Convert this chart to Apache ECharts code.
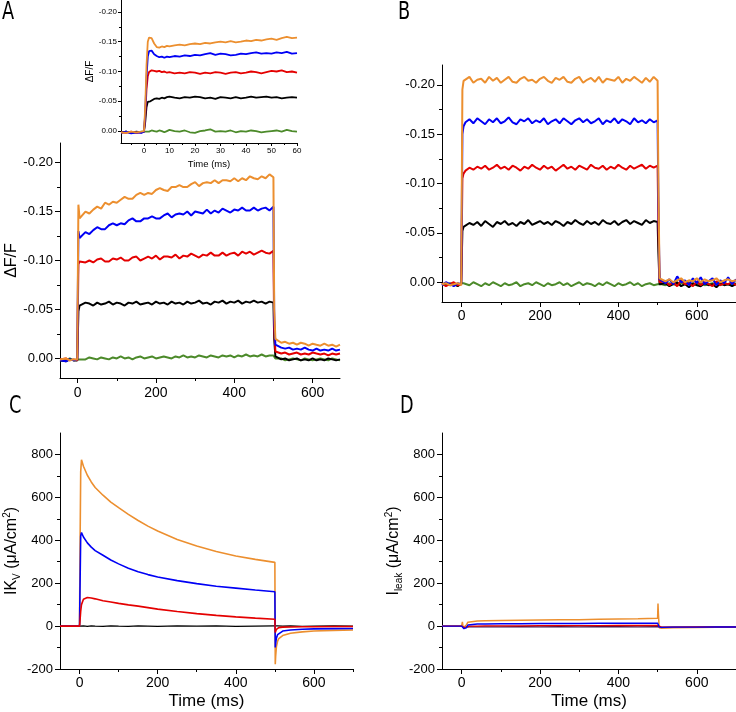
<!DOCTYPE html>
<html>
<head>
<meta charset="utf-8">
<script src="https://cdn.jsdelivr.net/npm/echarts@6/dist/echarts.min.js"></script>
<style>
html, body { margin: 0; padding: 0; background: #fff; }
#chart { width: 736px; height: 712px; }
</style>
</head>
<body>
<div id="chart"></div>
<script>
/* data */

// panel A, 0-670 ms
const tA = [-45,-40,-30,-20,-10,-1,0,2,5,
  10,20,30,40,50,60,70,80,90,100,110,120,130,140,150,160,170,180,190,200,
  210,220,230,240,250,260,270,280,290,300,310,320,330,340,350,360,370,380,390,400,
  410,420,430,440,450,460,470,480,490,500,502,505,
  510,520,530,540,550,560,570,580,590,600,610,620,630,640,650,660,670]
const aOrange = [0.001,0.002,0.000,0.002,0.001,0.001,0.001,-0.157,-0.143,
  -0.145,-0.150,-0.148,-0.152,-0.155,-0.153,-0.159,-0.157,-0.160,-0.159,
  -0.162,-0.165,-0.163,-0.163,-0.167,-0.169,-0.167,-0.169,-0.168,-0.172,
  -0.174,-0.172,-0.171,-0.175,-0.175,-0.177,-0.175,-0.175,-0.178,-0.180,
  -0.176,-0.179,-0.180,-0.179,-0.182,-0.179,-0.182,-0.182,-0.181,-0.184,
  -0.181,-0.184,-0.182,-0.186,-0.184,-0.183,-0.186,-0.184,-0.188,-0.185,
  -0.050,-0.020,
  -0.018,-0.016,-0.017,-0.015,-0.016,-0.014,-0.016,-0.015,-0.013,-0.015,-0.014,-0.013,-0.015,-0.013,-0.014,-0.012,-0.014]
const aBlue = [0.002,0.000,0.003,0.001,0.002,0.001,0.001,-0.130,-0.123,
  -0.125,-0.129,-0.127,-0.131,-0.134,-0.132,-0.132,-0.136,-0.138,-0.136,
  -0.138,-0.137,-0.141,-0.143,-0.140,-0.140,-0.143,-0.143,-0.145,-0.143,
  -0.143,-0.146,-0.148,-0.144,-0.147,-0.148,-0.147,-0.150,-0.146,-0.150,
  -0.149,-0.148,-0.152,-0.148,-0.151,-0.149,-0.153,-0.151,-0.149,-0.152,
  -0.151,-0.154,-0.151,-0.151,-0.154,-0.151,-0.153,-0.154,-0.151,-0.155,
  -0.040,-0.014,
  -0.012,-0.011,-0.010,-0.011,-0.009,-0.010,-0.009,-0.011,-0.009,-0.008,-0.010,-0.008,-0.009,-0.008,-0.010,-0.008,-0.009]
const aRed = [0.001,0.003,0.000,0.002,0.001,0.002,0.001,-0.096,-0.099,
  -0.101,-0.098,-0.100,-0.098,-0.101,-0.102,-0.099,-0.099,-0.102,-0.101,
  -0.103,-0.100,-0.100,-0.103,-0.104,-0.100,-0.102,-0.104,-0.102,-0.105,
  -0.101,-0.104,-0.104,-0.103,-0.106,-0.102,-0.105,-0.104,-0.107,-0.105,
  -0.103,-0.106,-0.105,-0.108,-0.105,-0.105,-0.108,-0.105,-0.107,-0.108,
  -0.105,-0.109,-0.107,-0.109,-0.106,-0.108,-0.110,-0.108,-0.107,-0.110,
  -0.030,-0.007,
  -0.006,-0.005,-0.006,-0.004,-0.005,-0.006,-0.004,-0.005,-0.004,-0.006,-0.005,-0.004,-0.005,-0.003,-0.005,-0.004,-0.005]
const aBlack = [0.002,0.001,0.003,0.001,0.002,0.002,0.001,-0.048,-0.054,
  -0.055,-0.057,-0.056,-0.054,-0.057,-0.055,-0.056,-0.058,-0.055,-0.057,
  -0.056,-0.054,-0.057,-0.056,-0.058,-0.055,-0.056,-0.057,-0.055,-0.058,
  -0.056,-0.057,-0.055,-0.058,-0.056,-0.057,-0.055,-0.058,-0.056,-0.057,
  -0.059,-0.056,-0.057,-0.055,-0.058,-0.057,-0.059,-0.056,-0.058,-0.057,
  -0.059,-0.056,-0.058,-0.057,-0.059,-0.057,-0.058,-0.056,-0.058,-0.057,
  -0.020,-0.002,
  0.000,0.001,0.000,0.002,0.001,0.000,0.002,0.001,0.002,0.000,0.002,0.001,0.002,0.000,0.001,0.002,0.001]
const aGreen = [0.002,0.001,0.002,0.000,0.002,0.001,0.001,0.000,0.001,
  0.000,0.001,-0.001,0.000,0.001,-0.001,0.000,0.001,-0.001,0.000,
  -0.002,0.000,-0.001,0.001,-0.001,-0.002,0.000,-0.001,-0.002,0.000,
  -0.001,-0.002,-0.001,0.000,-0.002,-0.001,-0.003,-0.001,-0.002,-0.001,
  -0.003,-0.002,-0.001,-0.003,-0.002,-0.001,-0.003,-0.002,-0.003,-0.001,
  -0.003,-0.002,-0.004,-0.002,-0.003,-0.002,-0.004,-0.002,-0.003,-0.003,
  -0.002,0.000,
  0.001,0.000,0.002,0.001,0.000,0.001,0.002,0.000,0.001,0.002,0.001,0.000,0.001,0.002,0.000,0.001,0.002]

// inset of A, first 60 ms
const tIn = [-9,-7,-5,-3,-1,0,0.5,1,1.5,2,2.5,3,4,5,6,7,8,9,10,
  12,14,16,18,20,22,24,26,28,30,32,34,36,38,40,42,44,46,48,50,52,54,56,58,60]
const inOrange = [0.002,0.003,0.001,0.002,0.001,0.000,-0.040,-0.110,-0.150,-0.157,-0.158,
  -0.156,-0.147,-0.141,-0.140,-0.142,-0.141,-0.143,-0.142,
  -0.144,-0.145,-0.144,-0.146,-0.147,-0.146,-0.148,-0.147,-0.149,-0.150,-0.149,-0.151,-0.149,
  -0.150,-0.152,-0.151,-0.153,-0.152,-0.154,-0.155,-0.153,-0.156,-0.158,-0.156,-0.157]
const inBlue = [0.003,0.001,0.004,0.002,0.003,0.001,-0.030,-0.090,-0.125,-0.134,-0.137,
  -0.135,-0.129,-0.126,-0.124,-0.125,-0.123,-0.125,-0.124,
  -0.126,-0.125,-0.127,-0.126,-0.128,-0.127,-0.129,-0.131,-0.128,-0.130,-0.129,-0.127,-0.128,
  -0.130,-0.129,-0.131,-0.132,-0.130,-0.131,-0.130,-0.132,-0.131,-0.133,-0.130,-0.131]
const inRed = [0.002,0.003,0.001,0.003,0.002,0.001,-0.025,-0.070,-0.092,-0.099,-0.101,
  -0.102,-0.101,-0.100,-0.101,-0.099,-0.100,-0.098,-0.099,
  -0.097,-0.098,-0.097,-0.099,-0.098,-0.096,-0.098,-0.097,-0.099,-0.098,-0.096,-0.098,-0.099,
  -0.097,-0.098,-0.100,-0.099,-0.097,-0.099,-0.101,-0.100,-0.102,-0.099,-0.100,-0.098]
const inBlack = [0.002,0.001,0.003,0.001,0.002,0.001,-0.015,-0.040,-0.049,-0.051,-0.050,
  -0.052,-0.054,-0.055,-0.054,-0.056,-0.055,-0.057,-0.058,
  -0.056,-0.055,-0.057,-0.056,-0.058,-0.057,-0.055,-0.056,-0.054,-0.057,-0.056,-0.055,-0.057,
  -0.055,-0.056,-0.058,-0.056,-0.057,-0.058,-0.056,-0.057,-0.055,-0.056,-0.057,-0.056]
const inGreen = [0.002,0.001,0.003,0.002,0.001,0.001,0.000,0.001,0.000,0.001,0.000,
  -0.001,0.000,0.001,-0.001,0.000,0.002,0.000,-0.002,
  0.000,0.001,-0.001,0.002,0.003,0.000,-0.001,-0.003,0.001,0.000,0.001,-0.001,0.002,
  0.000,0.001,-0.001,0.000,0.002,0.001,0.000,-0.001,0.001,-0.002,0.000,0.001]

// panel B
const tB = [-50,-40,-30,-20,-10,-1,0,2,5,
  10,20,30,40,50,60,70,80,90,100,110,120,130,140,150,160,170,180,190,200,
  210,220,230,240,250,260,270,280,290,300,310,320,330,340,350,360,370,380,390,400,
  410,420,430,440,450,460,470,480,490,500,502,505,
  510,520,530,540,550,560,570,580,590,600,610,620,630,640,650,660,670,680,690,700]
const bOrange = [0.002,0.001,0.003,0.002,0.001,0.003,0.002,-0.195,-0.204,
  -0.204,-0.208,-0.202,-0.205,-0.206,-0.202,-0.208,-0.204,-0.207,-0.202,
  -0.205,-0.208,-0.203,-0.202,-0.206,-0.208,-0.204,-0.205,-0.202,-0.206,
  -0.208,-0.204,-0.202,-0.207,-0.205,-0.208,-0.203,-0.202,-0.206,-0.208,
  -0.202,-0.205,-0.207,-0.203,-0.208,-0.202,-0.206,-0.205,-0.204,-0.208,
  -0.202,-0.206,-0.204,-0.208,-0.205,-0.202,-0.207,-0.203,-0.208,-0.204,
  -0.100,-0.004,
  -0.004,-0.001,-0.003,0.000,-0.002,-0.004,0.000,-0.002,-0.001,-0.004,0.000,-0.003,-0.001,-0.002,-0.004,0.000,-0.002,-0.003,-0.001,-0.002]
const bBlue = [0.003,0.000,0.002,0.004,0.001,0.002,0.002,-0.150,-0.158,
  -0.162,-0.165,-0.161,-0.166,-0.163,-0.160,-0.165,-0.162,-0.166,-0.161,
  -0.163,-0.167,-0.162,-0.160,-0.165,-0.163,-0.166,-0.161,-0.164,-0.162,
  -0.166,-0.160,-0.163,-0.165,-0.161,-0.166,-0.163,-0.160,-0.164,-0.166,
  -0.162,-0.165,-0.161,-0.163,-0.166,-0.160,-0.164,-0.162,-0.166,-0.161,
  -0.165,-0.163,-0.160,-0.166,-0.162,-0.164,-0.161,-0.165,-0.162,-0.164,
  -0.080,-0.003,
  -0.005,0.001,-0.003,0.002,-0.006,0.000,-0.002,0.003,-0.004,0.001,-0.005,0.002,-0.001,-0.004,0.003,-0.002,0.001,-0.005,0.002,-0.003]
const bRed = [0.001,0.004,0.002,0.000,0.003,0.002,0.002,-0.105,-0.110,
  -0.113,-0.116,-0.114,-0.117,-0.115,-0.118,-0.114,-0.116,-0.119,-0.115,
  -0.117,-0.114,-0.118,-0.116,-0.113,-0.117,-0.115,-0.119,-0.116,-0.114,
  -0.118,-0.115,-0.117,-0.113,-0.116,-0.119,-0.115,-0.117,-0.114,-0.118,
  -0.116,-0.114,-0.119,-0.116,-0.115,-0.118,-0.114,-0.117,-0.115,-0.119,
  -0.116,-0.114,-0.118,-0.115,-0.117,-0.119,-0.115,-0.118,-0.116,-0.118,
  -0.060,0.000,
  0.002,-0.001,0.003,0.000,0.004,-0.002,0.002,0.001,0.004,-0.001,0.003,0.000,0.002,0.004,-0.001,0.003,0.001,0.002,0.000,0.003]
const bBlack = [0.002,0.001,0.003,0.002,0.004,0.001,0.002,-0.052,-0.056,
  -0.057,-0.060,-0.058,-0.061,-0.057,-0.062,-0.059,-0.056,-0.061,-0.059,
  -0.062,-0.058,-0.060,-0.057,-0.061,-0.059,-0.063,-0.058,-0.060,-0.062,
  -0.059,-0.061,-0.058,-0.062,-0.060,-0.057,-0.061,-0.059,-0.063,-0.060,
  -0.058,-0.062,-0.059,-0.061,-0.058,-0.063,-0.060,-0.059,-0.062,-0.058,
  -0.061,-0.063,-0.059,-0.062,-0.060,-0.058,-0.063,-0.060,-0.062,-0.061,
  -0.030,0.002,
  0.003,0.001,0.004,0.002,0.000,0.004,0.002,0.005,0.001,0.003,0.004,0.001,0.003,0.002,0.005,0.001,0.003,0.002,0.004,0.002]
const bGreen = [0.002,0.003,0.001,0.002,0.003,0.001,0.002,0.002,0.001,
  0.001,0.003,0.000,0.002,0.004,0.001,0.003,0.000,0.002,0.004,
  0.001,0.003,0.002,0.000,0.004,0.002,0.001,0.003,0.000,0.002,
  0.004,0.001,0.003,0.002,0.000,0.003,0.001,0.004,0.002,0.000,
  0.003,0.001,0.002,0.004,0.001,0.003,0.000,0.002,0.004,0.001,
  0.003,0.002,0.000,0.003,0.001,0.004,0.002,0.001,0.003,0.002,
  0.002,0.002,
  0.002,0.003,0.001,0.002,0.003,0.001,0.002,0.000,0.003,0.002,0.001,0.003,0.002,0.001,0.002,0.003,0.001,0.002,0.003,0.001]

// panel C, IKv (uA/cm2)
const tC = [-50,0,1,3,5,10,20,30,40,60,80,100,125,150,175,200,250,300,350,400,450,500,
  501,502,504,507,510,520,540,570,600,650,700]
const cOrange = [0,0,300,720,775,745,703,672,646,610,578,552,521,492,466,443,404,373,348,327,311,297,
  -178,-140,-95,-70,-58,-44,-33,-27,-23,-20,-18]
const cBlue = [0,0,150,420,436,415,388,368,352,330,308,290,270,253,240,229,212,198,186,177,168,160,
  -100,-80,-55,-40,-32,-23,-18,-15,-13,-12,-11]
const cRed = [0,0,20,70,100,125,133,131,127,118,112,106,99,93,86,79,68,58,50,43,37,32,
  -30,-25,-15,-9,-7,-5,-4,-3,-3,-2,-2]
const cBlack = [0,0,0,1,-1,1,-1,1,0,-1,1,0,-1,1,0,-1,1,0,1,-1,0,1,
  -2,-1,0,1,-1,0,1,-1,0,1,0]

// panel D, Ileak (uA/cm2)
const tD = [-50,0,2,4,6,8,12,16,20,40,60,100,150,200,250,300,350,400,450,500,
  501,502,504,510,540,600,650,700]
const dOrange = [0,0,20,-8,-10,-6,5,18,22,24,25,26,27,28,29,30,32,33,34,36,
  105,60,-8,-10,-8,-6,-5,-5]
const dBlue = [0,0,5,-8,-12,-15,-8,5,9,10,10,11,11,12,12,12,13,13,13,14,
  20,8,-5,-6,-5,-5,-4,-4]
const dRed = [0,0,3,-4,-6,-8,-5,-1,0,0,1,1,1,2,2,2,2,3,3,3,
  8,2,-4,-5,-5,-4,-4,-4]
const dBlack = [0,0,0,-3,-5,-6,-5,-4,-4,-4,-4,-4,-3,-4,-3,-4,-3,-3,-4,-3,
  -3,-4,-5,-6,-5,-5,-4,-4]

// tick positions
const dffTicks = [-0.2,-0.15,-0.1,-0.05,0]
const dffMinor = [-0.175,-0.125,-0.075,-0.025]
const timeTicks = [0,200,400,600]
const timeMinorA = [100,300,500]
const timeMinor = [100,300,500,700]
const insetTicks = [0,10,20,30,40,50,60]
const insetMinor = [-5,5,15,25,35,45,55]
const curTicks = [-200,0,200,400,600,800]
const curMinor = [-100,100,300,500,700]

const ORANGE = '#EC8F2F'
const BLUE = '#0000F5'
const RED = '#E40000'
const BLACK = '#000000'
const GREEN = '#4C8A2A'
const FONT = '"Liberation Sans", Arial, sans-serif'
const LETTER_FONT = '"DejaVu Sans Condensed", "DejaVu Sans", sans-serif'

const chart = echarts.init(document.getElementById('chart'))

function zip(t, v) {
  const out = []
  for (let i = 0; i < Math.min(t.length, v.length); i++) out.push([t[i], v[i]])
  return out
}

// one labelled axis plus one axis that only carries the short minor ticks
function axisPair(dim, grid, c) {
  const base = {
    type: 'value', gridIndex: grid, min: c.min, max: c.max, inverse: !!c.inverse,
    position: dim === 'x' ? 'bottom' : 'left', splitLine: { show: false }
  }
  const major = Object.assign({}, base, {
    axisLine: { show: true, onZero: false, lineStyle: { color: '#000', width: 1 } },
    axisTick: { show: true, inside: false, length: c.tickLen, customValues: c.ticks, lineStyle: { color: '#000', width: 1 } },
    axisLabel: { show: true, customValues: c.ticks, fontSize: c.fontSize, fontFamily: FONT, color: '#000', margin: c.margin, formatter: c.fmt },
    name: c.name || '', nameLocation: 'middle', nameGap: c.nameGap || 0,
    nameRotate: dim === 'y' ? 90 : 0, nameTextStyle: c.nameStyle || {}
  })
  const minor = Object.assign({}, base, {
    axisLine: { show: false, onZero: false },
    axisLabel: { show: false },
    axisTick: { show: true, inside: false, length: Math.round(c.tickLen * 0.6), customValues: c.minor, lineStyle: { color: '#000', width: 1 } }
  })
  return [major, minor]
}

const fmt2 = v => v.toFixed(2)
const fmt0 = v => String(v)

const grids = [
  { left: 60, top: 143, width: 280, height: 235 },   // A
  { left: 121, top: 0, width: 176, height: 143 },    // A inset
  { left: 442, top: 65, width: 294, height: 237 },   // B
  { left: 60, top: 433, width: 293, height: 236 },   // C
  { left: 442, top: 433, width: 294, height: 236 }   // D
]

const xAxes = [].concat(
  axisPair('x', 0, { min: -45, max: 670, ticks: timeTicks, minor: timeMinorA, tickLen: 5, fontSize: 14, margin: 8, fmt: fmt0 }),
  axisPair('x', 1, { min: -9, max: 60, ticks: insetTicks, minor: insetMinor, tickLen: 3, fontSize: 8, margin: 4, fmt: fmt0,
    name: 'Time (ms)', nameGap: 16, nameStyle: { fontSize: 9.5, fontFamily: FONT, color: '#000' } }),
  axisPair('x', 2, { min: -50, max: 700, ticks: timeTicks, minor: timeMinor, tickLen: 5, fontSize: 14, margin: 7, fmt: fmt0 }),
  axisPair('x', 3, { min: -50, max: 700, ticks: timeTicks, minor: timeMinor, tickLen: 5, fontSize: 14, margin: 7, fmt: fmt0,
    name: 'Time (ms)', nameGap: 24, nameStyle: { fontSize: 17, fontFamily: FONT, color: '#000' } }),
  axisPair('x', 4, { min: -50, max: 700, ticks: timeTicks, minor: timeMinor, tickLen: 5, fontSize: 14, margin: 7, fmt: fmt0,
    name: 'Time (ms)', nameGap: 24, nameStyle: { fontSize: 17, fontFamily: FONT, color: '#000' } })
)

const subSup = {
  s: { fontSize: 10, fontFamily: FONT, color: '#000', verticalAlign: 'bottom', lineHeight: 20, padding: [6, 0, 0, 0] },
  p: { fontSize: 10, fontFamily: FONT, color: '#000', verticalAlign: 'top', lineHeight: 20 }
}

const yAxes = [].concat(
  axisPair('y', 0, { min: -0.22, max: 0.02, inverse: true, ticks: dffTicks, minor: dffMinor, tickLen: 5, fontSize: 13, margin: 7, fmt: fmt2,
    name: 'ΔF/F', nameGap: 40, nameStyle: { fontSize: 16, fontFamily: FONT, color: '#000' } }),
  axisPair('y', 1, { min: -0.22, max: 0.02, inverse: true, ticks: dffTicks, minor: dffMinor, tickLen: 3, fontSize: 8, margin: 4, fmt: fmt2,
    name: 'ΔF/F', nameGap: 25, nameStyle: { fontSize: 10, fontFamily: FONT, color: '#000' } }),
  axisPair('y', 2, { min: -0.22, max: 0.02, inverse: true, ticks: dffTicks, minor: dffMinor, tickLen: 5, fontSize: 13, margin: 7, fmt: fmt2 }),
  axisPair('y', 3, { min: -200, max: 900, ticks: curTicks, minor: curMinor, tickLen: 5, fontSize: 13, margin: 7, fmt: fmt0,
    name: 'IK{s|V} (μA/cm{p|2})', nameGap: 38,
    nameStyle: { fontSize: 16, fontFamily: FONT, color: '#000', lineHeight: 20, rich: subSup } }),
  axisPair('y', 4, { min: -200, max: 900, ticks: curTicks, minor: curMinor, tickLen: 5, fontSize: 13, margin: 7, fmt: fmt0,
    name: 'I{s|leak} (μA/cm{p|2})', nameGap: 38,
    nameStyle: { fontSize: 16, fontFamily: FONT, color: '#000', lineHeight: 20, rich: subSup } })
)

function trace(grid, t, v, color, width) {
  return {
    type: 'line', xAxisIndex: grid * 2, yAxisIndex: grid * 2,
    data: zip(t, v), showSymbol: false, symbol: 'none', silent: true,
    lineStyle: { color: color, width: width }, itemStyle: { color: color }
  }
}

const series = [
  trace(0, tA, aGreen, GREEN, 2),
  trace(0, tA, aBlack, BLACK, 2),
  trace(0, tA, aRed, RED, 2),
  trace(0, tA, aBlue, BLUE, 2),
  trace(0, tA, aOrange, ORANGE, 2),
  trace(1, tIn, inGreen, GREEN, 1.8),
  trace(1, tIn, inBlack, BLACK, 1.8),
  trace(1, tIn, inRed, RED, 1.8),
  trace(1, tIn, inBlue, BLUE, 1.8),
  trace(1, tIn, inOrange, ORANGE, 1.8),
  trace(2, tB, bGreen, GREEN, 2),
  trace(2, tB, bBlack, BLACK, 2),
  trace(2, tB, bRed, RED, 2),
  trace(2, tB, bBlue, BLUE, 2),
  trace(2, tB, bOrange, ORANGE, 2),
  trace(3, tC, cBlack, BLACK, 1.2),
  trace(3, tC, cOrange, ORANGE, 1.6),
  trace(3, tC, cBlue, BLUE, 1.6),
  trace(3, tC, cRed, RED, 1.6),
  trace(4, tD, dBlack, '#3a1450', 1.3),
  trace(4, tD, dOrange, ORANGE, 1.5),
  trace(4, tD, dRed, RED, 1.4),
  trace(4, tD, dBlue, BLUE, 1.4)
]

// panel letters, squeezed sideways to look like the condensed face of the figure
const letters = [['A', 2, 1], ['B', 398, 1], ['C', 9, 395], ['D', 400, 395]].map(([txt, x, y]) => ({
  type: 'text', x: x, y: y, scaleX: 0.82, silent: true,
  style: { text: txt, fontSize: 24, fontFamily: LETTER_FONT, fill: '#000', textVerticalAlign: 'top' }
}))

chart.setOption({
  animation: false,
  backgroundColor: '#fff',
  grid: grids,
  xAxis: xAxes,
  yAxis: yAxes,
  series: series,
  graphic: letters
})
</script>
</body>
</html>
